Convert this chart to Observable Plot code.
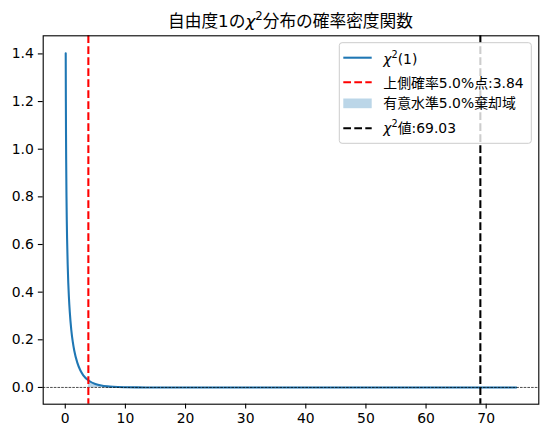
<!DOCTYPE html>
<html>
<head>
<meta charset="utf-8">
<script src="https://cdn.jsdelivr.net/npm/d3@7"></script>
<script src="https://cdn.jsdelivr.net/npm/@observablehq/plot@0.6"></script>
<style>
  body { margin: 0; background: white; }
</style>
</head>
<body>
<div id="chart"></div>
<script>
// ---- data ----
const chi2X = [0.075, 0.1, 0.125, 0.15, 0.2, 0.25, 0.3, 0.4, 0.5, 0.6, 0.75, 1, 1.25, 1.5, 2, 2.5, 3, 3.84, 4, 5, 6, 7, 8, 10, 12, 15, 20, 30, 40, 50, 60, 70, 75];
const chi2Y = [1.403, 1.200, 1.060, 0.956, 0.807, 0.704, 0.627, 0.517, 0.439, 0.382, 0.317, 0.242, 0.191, 0.154, 0.104, 0.072, 0.051, 0.030, 0.027, 0.0147, 0.0081, 0.0046, 0.0026, 0.00085, 0.00029, 0.00006, 0.000005, 0, 0, 0, 0, 0, 0];
const criticalValue = 3.84;
const chiValue = 69.03;
const xTicks = [0, 10, 20, 30, 40, 50, 60, 70];
const yTicks = [0, 0.2, 0.4, 0.6, 0.8, 1.0, 1.2, 1.4];
const xDomain = [-3.67, 78.75];
const yDomain = [-0.0703, 1.476];
const titleText = ["自由度1の", "χ", "2", "分布の確率密度関数"];
const legendLabels = ["(1)", "上側確率5.0%点:3.84", "有意水準5.0%棄却域", "値:69.03"];

const pts = chi2X.map((x, i) => ({x, y: chi2Y[i]}));
const rejection = pts.filter(d => d.x >= criticalValue);

const FONT = '"DejaVu Sans", "Noto Sans CJK JP", sans-serif';
const FS = 13.9;
const tick = 4.86;

const plot = Plot.plot({
  width: 547,
  height: 438,
  marginLeft: 42.7,
  marginRight: 8.7,
  marginTop: 35.3,
  marginBottom: 34.3,
  style: {fontFamily: FONT, fontSize: FS + "px", color: "black", background: "white"},
  x: {domain: xDomain},
  y: {domain: yDomain},
  marks: [
    Plot.areaY(rejection, {x: "x", y: "y", fill: "#1f77b4", fillOpacity: 0.3, curve: "monotone-x"}),
    Plot.line(pts, {x: "x", y: "y", stroke: "#1f77b4", strokeWidth: 2.08, curve: "monotone-x"}),
    Plot.ruleY([0], {stroke: "black", strokeWidth: 0.7, strokeDasharray: "2.6,1.1"}),
    Plot.ruleX([criticalValue], {stroke: "#ff0000", strokeWidth: 2.08, strokeDasharray: "7.7,3.3"}),
    Plot.ruleX([chiValue], {stroke: "black", strokeWidth: 2.08, strokeDasharray: "7.7,3.3"}),
    Plot.frame({stroke: "black", strokeWidth: 1.1}),
    Plot.axisX({ticks: xTicks, tickSize: tick, tickPadding: 4.5, label: null, strokeWidth: 1.1, fontSize: FS, tickFormat: d => String(d)}),
    Plot.axisY({ticks: yTicks, tickSize: tick, tickPadding: 4.5, label: null, strokeWidth: 1.1, fontSize: FS, tickFormat: d => d.toFixed(1)})
  ]
});
document.getElementById("chart").appendChild(plot);

const svg = d3.select(plot);

// title
const t = svg.append("text")
  .attr("x", 290.5).attr("y", 27)
  .attr("text-anchor", "middle")
  .attr("font-family", FONT).attr("font-size", 16.7).attr("fill", "black");
t.append("tspan").text(titleText[0]);
t.append("tspan").attr("font-style", "italic").text(titleText[1]);
t.append("tspan").attr("dy", -7).attr("font-size", 11.7).text(titleText[2]);
t.append("tspan").attr("dy", 7).text(titleText[3]);

// legend
const lg = svg.append("g").attr("font-family", FONT).attr("font-size", FS).attr("text-anchor", "start");
lg.append("rect").attr("x", 339.3).attr("y", 42.7).attr("width", 192).attr("height", 100.6)
  .attr("rx", 2.8).attr("fill", "white").attr("fill-opacity", 0.8)
  .attr("stroke", "#cccccc").attr("stroke-width", 1);
const hx0 = 343.3, hx1 = 371.7, tx = 383.3;
// row 1
lg.append("line").attr("x1", hx0).attr("x2", hx1).attr("y1", 57.7).attr("y2", 57.7)
  .attr("stroke", "#1f77b4").attr("stroke-width", 2.08);
const r1 = lg.append("text").attr("x", tx).attr("y", 64.3).attr("fill", "black");
r1.append("tspan").attr("font-style", "italic").text("χ");
r1.append("tspan").attr("dy", -6).attr("font-size", 9.7).text("2");
r1.append("tspan").attr("dy", 6).text(legendLabels[0]);
// row 2
lg.append("line").attr("x1", hx0).attr("x2", hx1).attr("y1", 82.3).attr("y2", 82.3)
  .attr("stroke", "#ff0000").attr("stroke-width", 2.08).attr("stroke-dasharray", "7.7,3.3");
lg.append("text").attr("x", tx).attr("y", 87.5).attr("fill", "black").text(legendLabels[1]);
// row 3
lg.append("rect").attr("x", hx0).attr("y", 98.5).attr("width", hx1 - hx0).attr("height", 9.7)
  .attr("fill", "#1f77b4").attr("fill-opacity", 0.3);
lg.append("text").attr("x", tx).attr("y", 108.3).attr("fill", "black").text(legendLabels[2]);
// row 4
lg.append("line").attr("x1", hx0).attr("x2", hx1).attr("y1", 128.3).attr("y2", 128.3)
  .attr("stroke", "black").attr("stroke-width", 2.08).attr("stroke-dasharray", "7.7,3.3");
const r4 = lg.append("text").attr("x", tx).attr("y", 133.3).attr("fill", "black");
r4.append("tspan").attr("font-style", "italic").text("χ");
r4.append("tspan").attr("dy", -6).attr("font-size", 9.7).text("2");
r4.append("tspan").attr("dy", 6).text(legendLabels[3]);
</script>
</body>
</html>
